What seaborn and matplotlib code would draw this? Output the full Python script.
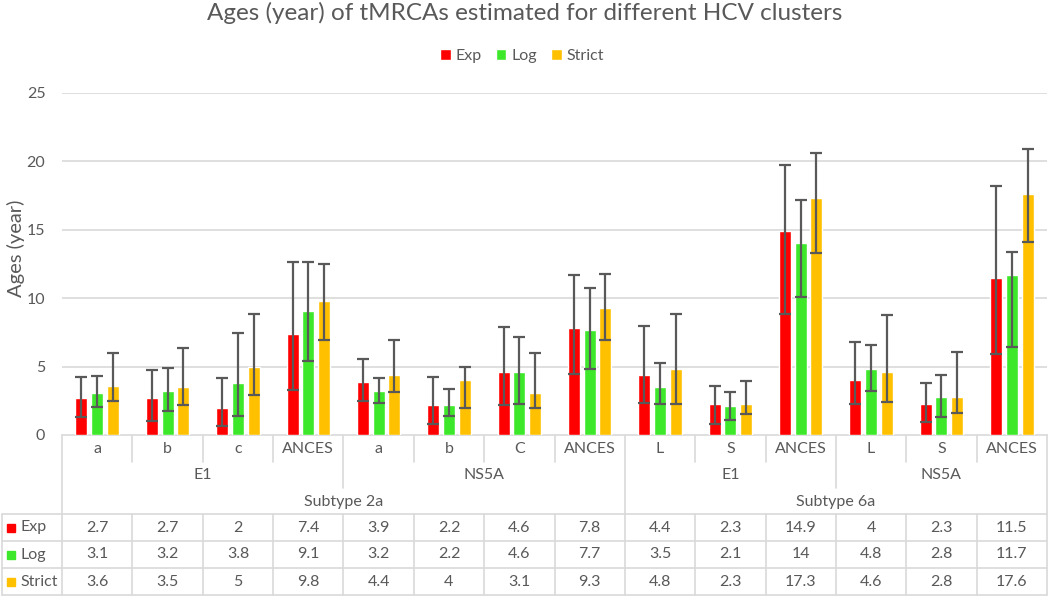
import numpy as np
import pandas as pd
import seaborn as sns
import matplotlib.pyplot as plt

# chart data
categories = ["a", "b", "c", "ANCES", "a", "b", "C", "ANCES", "L", "S", "ANCES", "L", "S", "ANCES"]
genes = ["E1"] * 4 + ["NS5A"] * 4 + ["E1"] * 3 + ["NS5A"] * 3
subtypes = ["Subtype 2a"] * 8 + ["Subtype 6a"] * 6
series = ["Exp", "Log", "Strict"]

exp = [2.7, 2.7, 2, 7.4, 3.9, 2.2, 4.6, 7.8, 4.4, 2.3, 14.9, 4, 2.3, 11.5]
log = [3.1, 3.2, 3.8, 9.1, 3.2, 2.2, 4.6, 7.7, 3.5, 2.1, 14, 4.8, 2.8, 11.7]
strict = [3.6, 3.5, 5, 9.8, 4.4, 4, 3.1, 9.3, 4.8, 2.3, 17.3, 4.6, 2.8, 17.6]

# lower / upper end of the error bars
exp_lo = [1.34, 1.05, 0.63, 3.27, 2.46, 0.78, 2.16, 4.46, 2.36, 0.83, 8.85, 2.24, 0.93, 5.95]
exp_hi = [4.22, 4.73, 4.19, 12.67, 5.56, 4.22, 7.89, 11.72, 7.94, 3.58, 19.71, 6.82, 3.8, 18.17]
log_lo = [2.05, 1.75, 1.36, 5.43, 2.34, 1.36, 2.29, 4.85, 2.24, 1.12, 10.09, 3.24, 1.29, 6.43]
log_hi = [4.34, 4.92, 7.46, 12.62, 4.17, 3.36, 7.19, 10.75, 5.26, 3.12, 17.18, 6.58, 4.41, 13.38]
strict_lo = [2.49, 2.19, 2.9, 6.94, 3.12, 2.0, 1.97, 6.94, 2.24, 1.54, 13.28, 2.44, 1.6, 14.08]
strict_hi = [5.97, 6.34, 8.87, 12.5, 6.97, 4.97, 6.02, 11.77, 8.82, 3.97, 20.61, 8.8, 6.07, 20.9]

colors = ["#FF0000", "#3DE82A", "#FFC000"]
grey = "#595959"
line_c = "#D9D9D9"

values = [exp, log, strict]
lows = [exp_lo, log_lo, strict_lo]
highs = [exp_hi, log_hi, strict_hi]

# long table for seaborn, each category gets a unique key
keys = [f"{s}|{g}|{c}|{i}" for i, (s, g, c) in enumerate(zip(subtypes, genes, categories))]
rows = []
for name, vals in zip(series, values):
    for k, v in zip(keys, vals):
        rows.append({"key": k, "model": name, "age": v})
df = pd.DataFrame(rows)

sns.set_theme(style="white")
plt.rcParams['font.family'] = ['Lato', 'DejaVu Sans']

W, H = 1050, 597
L, R, B, T = 62, 1047, 435, 93
fig = plt.figure(figsize=(W / 100, H / 100), dpi=100)
ax = fig.add_axes([L / W, 1 - B / H, (R - L) / W, (B - T) / H])

sns.barplot(data=df, x="key", y="age", hue="model", order=keys, hue_order=series,
            palette=colors, errorbar=None, width=0.67, gap=0.24, saturation=1,
            ax=ax, zorder=2)

# error bars on top of the bars
for cont, lo, hi in zip(ax.containers, lows, highs):
    xs = np.array([p.get_x() + p.get_width() / 2 for p in cont])
    ys = np.array([p.get_height() for p in cont])
    ax.errorbar(xs, ys, yerr=[ys - np.array(lo), np.array(hi) - ys], fmt="none",
                ecolor=grey, elinewidth=1.6, capsize=4, capthick=1.6, zorder=3)

ax.set_ylim(0, 25)
ax.set_xlim(-0.5, len(keys) - 0.5)
ax.set_yticks([0, 5, 10, 15, 20, 25])
ax.tick_params(axis="y", length=0, pad=12, labelsize=11.5, labelcolor=grey)
ax.set_xticks([])
ax.set_xlabel("")
ax.set_ylabel("")
ax.yaxis.grid(True, color=line_c, lw=1.2, zorder=0)
for s in ax.spines.values():
    s.set_visible(False)

sns.move_legend(ax, "center", bbox_to_anchor=(522 / W, 1 - 56 / H),
                bbox_transform=fig.transFigure, ncol=3, frameon=False, title=None,
                fontsize=11.5, handlelength=0.65, handleheight=0.65,
                handletextpad=0.3, columnspacing=0.9)
for t in ax.get_legend().get_texts():
    t.set_color(grey)

fig.text(525 / W, 1 - 13 / H, "Ages (year) of tMRCAs estimated for different HCV clusters",
         ha="center", va="center", fontsize=17.5, color=grey)
fig.text(16 / W, 1 - 248 / H, "Ages (year)", rotation=90, ha="center", va="center",
         fontsize=14.5, color=grey)

# data table under the plot, drawn in pixel coordinates
tab = fig.add_axes([0, 0, 1, 1], zorder=-1)
tab.set_xlim(0, W)
tab.set_ylim(H, 0)
tab.axis("off")

n = len(keys)
cw = (R - L) / n
row_y = [514, 541, 568, 595]


def hline(y, x0, x1):
    tab.plot([x0, x1], [y, y], color=line_c, lw=1.2)


def vline(x, y0, y1):
    tab.plot([x, x], [y0, y1], color=line_c, lw=1.2)


hline(B, L, R)
for y in row_y:
    hline(y, 2, R)
vline(2, 514, 595)
vline(L, B, 595)
vline(R, B, 595)

for i in range(1, n):
    x = L + i * cw
    if subtypes[i] != subtypes[i - 1]:
        vline(x, B, 514)
    elif genes[i] != genes[i - 1]:
        vline(x, B, 488)
    else:
        vline(x, B, 462)
    vline(x, 514, 595)

for i, c in enumerate(categories):
    tab.text(L + (i + 0.5) * cw, 449, c, ha="center", va="center", fontsize=11.5, color=grey)


def spans(labels):
    out = []
    start = 0
    for i in range(1, len(labels) + 1):
        if i == len(labels) or labels[i] != labels[start] or \
                (labels is genes and subtypes[i] != subtypes[start]):
            out.append((start, i, labels[start]))
            start = i
    return out


for a, b, g in spans(genes):
    tab.text(L + (a + b) / 2 * cw, 475, g, ha="center", va="center", fontsize=11.5, color=grey)
for a, b, s in spans(subtypes):
    tab.text(L + (a + b) / 2 * cw, 502, s, ha="center", va="center", fontsize=11.5, color=grey)

for r, (name, vals, col) in enumerate(zip(series, values, colors)):
    yc = (row_y[r] + row_y[r + 1]) / 2
    tab.add_patch(plt.Rectangle((7, yc - 4), 8, 8, color=col))
    tab.text(20, yc, name, ha="left", va="center", fontsize=11.5, color=grey)
    for i, v in enumerate(vals):
        tab.text(L + (i + 0.5) * cw, yc, f"{v:g}", ha="center", va="center",
                 fontsize=11.5, color=grey)

fig.savefig("out.png", dpi=100)
